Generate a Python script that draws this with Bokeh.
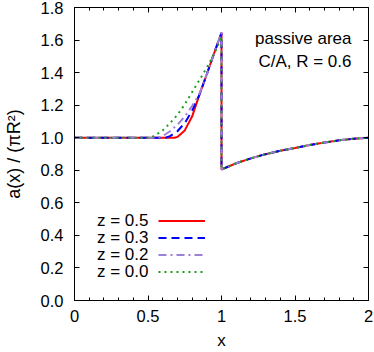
from bokeh.plotting import figure
from bokeh.models import (Range1d, LinearAxis, FixedTicker, Legend, LegendItem,
                          Label, NumeralTickFormatter)
from bokeh.core.properties import value
from bokeh.embed import file_html
from bokeh.resources import INLINE

# ---- axes / ticks ----
x_major = [0, 0.5, 1, 1.5, 2]
x_tick_labels = ["0", "0.5", "1", "1.5", "2"]
x_minor = [0.1, 0.2, 0.3, 0.4, 0.6, 0.7, 0.8, 0.9, 1.1, 1.2, 1.3, 1.4,
           1.6, 1.7, 1.8, 1.9]
y_major = [0, 0.2, 0.4, 0.6, 0.8, 1.0, 1.2, 1.4, 1.6, 1.8]
y_tick_labels = ["0.0", "0.2", "0.4", "0.6", "0.8", "1.0", "1.2", "1.4", "1.6", "1.8"]

# ---- data: common branch for x >= 1 ----
x_right = [1.0, 1.1, 1.2, 1.3, 1.4, 1.5, 1.6, 1.7, 1.8, 1.9, 2.0]
a_right = [0.805, 0.843, 0.873, 0.899, 0.920, 0.937, 0.955, 0.970, 0.984, 0.994, 1.0]

# ---- data: x <= 1 branch per z ----
x_z05 = [0.0, 0.68, 0.70, 0.75, 0.80, 0.85, 0.90, 0.95, 1.0]
a_z05 = [1.0, 1.0, 1.005, 1.045, 1.13, 1.265, 1.39, 1.52, 1.645]

x_z03 = [0.0, 0.62, 0.65, 0.70, 0.75, 0.80, 0.85, 0.90, 0.95, 1.0]
a_z03 = [1.0, 1.0, 1.01, 1.04, 1.09, 1.165, 1.265, 1.39, 1.52, 1.645]

x_z02 = [0.0, 0.57, 0.60, 0.65, 0.70, 0.75, 0.80, 0.85, 0.90, 0.95, 1.0]
a_z02 = [1.0, 1.0, 1.01, 1.04, 1.08, 1.13, 1.195, 1.27, 1.39, 1.52, 1.645]

x_z00 = [0.0, 0.52, 0.55, 0.60, 0.65, 0.70, 0.75, 0.80, 0.85, 0.90, 0.95, 1.0]
a_z00 = [1.0, 1.0, 1.015, 1.045, 1.09, 1.14, 1.205, 1.28, 1.355, 1.43, 1.515, 1.62]

series_labels = ["z = 0.5", "z = 0.3", "z = 0.2", "z = 0.0"]
series_x = [x_z05, x_z03, x_z02, x_z00]
series_a = [a_z05, a_z03, a_z02, a_z00]
series_colors = ["#ff0000", "#0000ff", "#9b80d8", "#18a018"]
series_dash = ["solid", "8 5", "8 4 2 4", "2 4"]

annotation_lines = ["passive area", "C/A, R = 0.6"]

FONT = "Liberation Sans"

p = figure(width=374, height=352, x_range=Range1d(0, 2), y_range=Range1d(0, 1.8),
           output_backend="svg", toolbar_location=None,
           min_border_left=73, min_border_right=6, min_border_top=7,
           min_border_bottom=50,
           x_axis_label="x", y_axis_label="a(x) / (πR²)")
p.grid.visible = False
p.outline_line_color = "black"
p.outline_line_width = 1
p.background_fill_color = "white"
p.border_fill_color = "white"


def style_axis(ax, show_labels, minor):
    ax.axis_line_color = "black"
    ax.major_tick_line_color = "black"
    ax.major_tick_in = 5
    ax.major_tick_out = 0
    if minor:
        ax.minor_tick_line_color = "black"
        ax.minor_tick_in = 3
        ax.minor_tick_out = 0
    else:
        ax.minor_tick_line_color = None
    if show_labels:
        ax.major_label_text_font = FONT
        ax.major_label_text_font_size = "16.5px"
        ax.major_label_text_color = "black"
        ax.major_label_standoff = 11
        ax.axis_label_text_font = FONT
        ax.axis_label_text_font_size = "17px"
        ax.axis_label_text_font_style = "normal"
        ax.axis_label_text_color = "black"
    else:
        ax.major_label_text_font_size = "0px"
        ax.major_label_text_color = None
        ax.major_label_standoff = 0


xb = p.below[0]
xb.ticker = FixedTicker(ticks=x_major, minor_ticks=x_minor)
xb.formatter = NumeralTickFormatter(format="0.[0]")
xb.major_label_overrides = dict(zip(x_major, x_tick_labels))
style_axis(xb, True, True)
xb.major_label_standoff = 9
xb.axis_label_standoff = 6

yl = p.left[0]
yl.ticker = FixedTicker(ticks=y_major)
yl.formatter = NumeralTickFormatter(format="0.0")
yl.major_label_overrides = dict(zip(y_major, y_tick_labels))
style_axis(yl, True, False)
yl.axis_label_text_font_size = "18px"
yl.axis_label_standoff = 14

xt = LinearAxis(ticker=FixedTicker(ticks=x_major, minor_ticks=x_minor))
style_axis(xt, False, True)
p.add_layout(xt, "above")

yr = LinearAxis(ticker=FixedTicker(ticks=y_major))
style_axis(yr, False, False)
p.add_layout(yr, "right")

renderers = []
for xs, ys, c, d in zip(series_x, series_a, series_colors, series_dash):
    # left branch ends at x = 1 (peak); right branch starts at x = 1 (drop)
    r = p.line(xs + x_right, ys + a_right, line_color=c, line_width=2,
               line_dash=d)
    renderers.append(r)

LEG_Y = 20.5
legend = Legend(items=[LegendItem(label=value(""), renderers=[r]) for r in renderers],
                location=(84, LEG_Y), glyph_width=47, glyph_height=17,
                label_width=0, label_height=17, label_standoff=0, spacing=0,
                padding=0, margin=0, border_line_color=None,
                background_fill_alpha=0, label_text_font_size="0px")
p.add_layout(legend)

row_h = 17
n = len(series_labels)
for i, lab in enumerate(series_labels):
    p.add_layout(Label(x=74, y=LEG_Y + row_h * (n - i - 1) + row_h / 2,
                       x_units="screen", y_units="screen", text=lab,
                       text_align="right", text_baseline="middle",
                       text_font=FONT, text_font_size="17px", text_color="black"))

for i, t in enumerate(annotation_lines):
    p.add_layout(Label(x=277, y=262 - 22.7 * i, x_units="screen", y_units="screen",
                       text=t, text_align="right", text_baseline="middle",
                       text_font=FONT, text_font_size="17px", text_color="black"))

open("out.html", "w").write(file_html(p, INLINE))
